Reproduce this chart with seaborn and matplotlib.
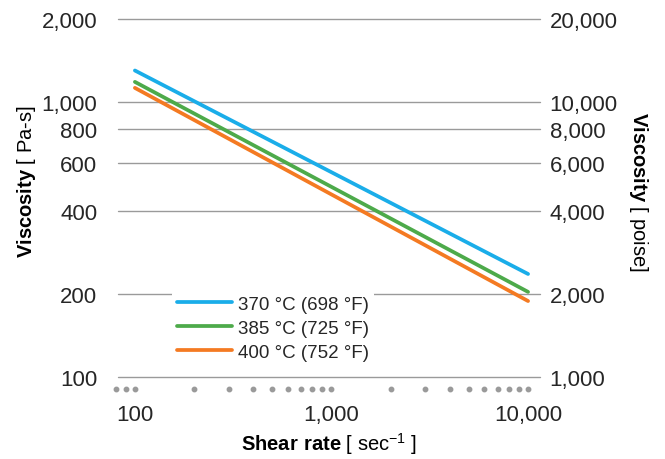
# Viskosität vs. Scherrate, log-log mit zweiter Achse (poise)
import pandas as pd
import matplotlib.pyplot as plt
import seaborn as sns

sns.set_style("white")
plt.rcParams['font.family'] = ['Liberation Sans', 'DejaVu Sans']
plt.rcParams['mathtext.fontset'] = 'custom'
plt.rcParams['mathtext.rm'] = 'Liberation Sans'
plt.rcParams['mathtext.bf'] = 'Liberation Sans:bold'

# Daten
shear_rate = [100, 10000]
visc_370 = [1300, 237]
visc_385 = [1182, 204]
visc_400 = [1124, 189]
labels = ["370 °C (698 °F)", "385 °C (725 °F)", "400 °C (752 °F)"]
colors = ["#1AADE9", "#4DAA4A", "#F47A22"]

y_ticks = [100, 200, 400, 600, 800, 1000, 2000]
y_ticks_right = [1000, 2000, 4000, 6000, 8000, 10000, 20000]
x_ticks = [100, 1000, 10000]
x_dots = [80, 90, 100, 200, 300, 400, 500, 600, 700, 800, 900, 1000,
          2000, 3000, 4000, 5000, 6000, 7000, 8000, 9000, 10000]

df = pd.DataFrame({
    "shear": shear_rate * 3,
    "visc": visc_370 + visc_385 + visc_400,
    "temp": [labels[0]] * 2 + [labels[1]] * 2 + [labels[2]] * 2,
})

fig = plt.figure(figsize=(6.65, 4.6), dpi=100)
ax = fig.add_axes([0.1774, 0.178, 0.6346, 0.7785])

ax.set_xscale("log")
ax.set_yscale("log")
ax.set_xlim(82, 11500)
ax.set_ylim(100, 2000)

txt = "#262626"
grid_c = "#9a9a9a"

for y in y_ticks:
    ax.axhline(y, color=grid_c, lw=1, zorder=1, clip_on=False)

sns.lineplot(data=df, x="shear", y="visc", hue="temp", palette=colors,
             linewidth=2.7, ax=ax, zorder=3)

ax.set_yticks(y_ticks)
ax.set_yticklabels([f"{v:,}" for v in y_ticks])
ax.yaxis.set_minor_locator(plt.NullLocator())
ax.set_xticks(x_ticks)
ax.set_xticklabels([f"{v:,}" for v in x_ticks])
ax.xaxis.set_minor_locator(plt.NullLocator())
ax.tick_params(axis="y", length=0, pad=15, labelsize=16, labelcolor=txt)
ax.tick_params(axis="x", length=0, pad=19, labelsize=16, labelcolor=txt)

# Punkte als Tick-Markierungen unter der Achse
ax.plot(x_dots, [-0.034] * len(x_dots), "o", color="#9a9a9a", ms=3.2,
        transform=ax.get_xaxis_transform(), clip_on=False)

ax2 = ax.twinx()
ax2.set_yscale("log")
ax2.set_ylim(1000, 20000)
ax2.set_yticks(y_ticks_right)
ax2.set_yticklabels([f"{v:,}" for v in y_ticks_right])
ax2.yaxis.set_minor_locator(plt.NullLocator())
ax2.tick_params(axis="y", length=0, pad=7, labelsize=16, labelcolor=txt)

for a in (ax, ax2):
    for s in a.spines.values():
        s.set_visible(False)

ax.set_xlabel(r"$\bf{Shear\ rate}$ [ sec$^{-1}$ ]", fontsize=14.5, color="black")
ax.xaxis.set_label_coords(0.5, -0.148)
ax.set_ylabel(r"$\bf{Viscosity}$ [ Pa-s]", fontsize=14.5, color="black")
ax.yaxis.set_label_coords(-0.19, 0.55)
ax2.set_ylabel(r"$\bf{Viscosity}$ [ poise]", fontsize=14.5, color="black",
               rotation=270)
ax2.yaxis.set_label_coords(1.26, 0.52)

leg = ax.legend(loc="upper left", bbox_to_anchor=(0.105, 0.27), frameon=True,
                fontsize=13.5, handlelength=2.9, handletextpad=0.32,
                labelspacing=0.38, borderpad=0.3)
leg.get_frame().set_facecolor("white")
leg.get_frame().set_edgecolor("none")
leg.get_frame().set_alpha(1)
for t in leg.get_texts():
    t.set_color(txt)
leg.set_zorder(5)

fig.savefig("out.png", dpi=100)
